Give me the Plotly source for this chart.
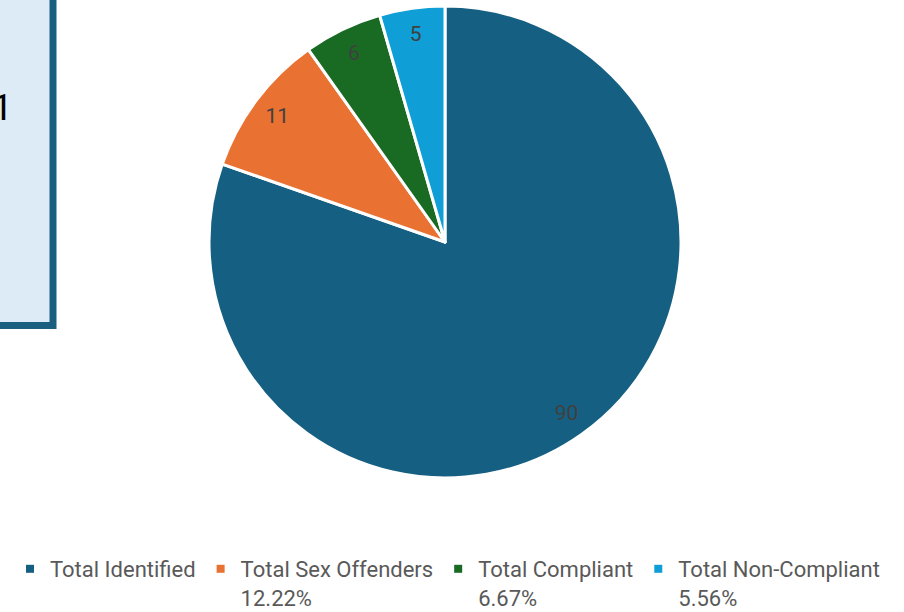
import plotly.graph_objects as go

categories = ["Total Identified", "Total Sex Offenders", "Total Compliant", "Total Non-Compliant"]
values = [90, 11, 6, 5]
pct_labels = ["", "12.22%", "6.67%", "5.56%"]
colors = ["#156082", "#E97132", "#196B24", "#0F9ED5"]

W, H = 904, 612

fig = go.Figure()

cx, cy, r = 445, 242, 236
dom = dict(x=[(cx - r) / W, (cx + r) / W], y=[1 - (cy + r) / H, 1 - (cy - r) / H])

fig.add_trace(go.Pie(
    labels=categories, values=values, sort=False, direction="clockwise",
    marker=dict(colors=colors, line=dict(color="white", width=3)),
    textinfo="none", showlegend=False, domain=dom,
))
# label ring (transparent) so value labels sit near the outer edge
fig.add_trace(go.Pie(
    labels=categories, values=values, sort=False, direction="clockwise", hole=0.78,
    marker=dict(colors=["rgba(0,0,0,0)"] * 4, line=dict(width=0)),
    textinfo="value", textposition="inside", insidetextorientation="horizontal",
    textfont=dict(family="Roboto", size=21, color="#404040"),
    showlegend=False, hoverinfo="skip", domain=dom,
))

for cat, pct, col in zip(categories, pct_labels, colors):
    name = cat if not pct else f"{cat}<br>{pct}"
    fig.add_trace(go.Scatter(
        x=[None], y=[None], mode="markers", name=name,
        marker=dict(symbol="square", size=8, color=col),
    ))

fig.add_shape(type="rect", xref="paper", yref="paper",
              x0=-20 / W, x1=53 / W, y0=1 - 325.5 / H, y1=1 + 20 / H,
              fillcolor="#DDEBF7", line=dict(color="#1A5E80", width=7), layer="below")
fig.add_annotation(text="1", xref="paper", yref="paper", x=15 / W, y=1 - 107 / H,
                   xanchor="right", yanchor="middle", showarrow=False,
                   font=dict(family="Roboto", size=37, color="#000000"))

fig.update_layout(
    width=W, height=H, margin=dict(l=0, r=0, t=0, b=0, autoexpand=False),
    paper_bgcolor="white", plot_bgcolor="white",
    xaxis=dict(visible=False), yaxis=dict(visible=False),
    legend=dict(orientation="h", x=10 / W, xanchor="left",
                yref="container", y=1 - 548 / H, yanchor="top",
                valign="top", font=dict(family="Roboto", size=22, color="#595959"),
                itemclick=False),
)

fig.write_html("out.html", config={"displayModeBar": False},
               post_script="document.body.style.margin='0';")
